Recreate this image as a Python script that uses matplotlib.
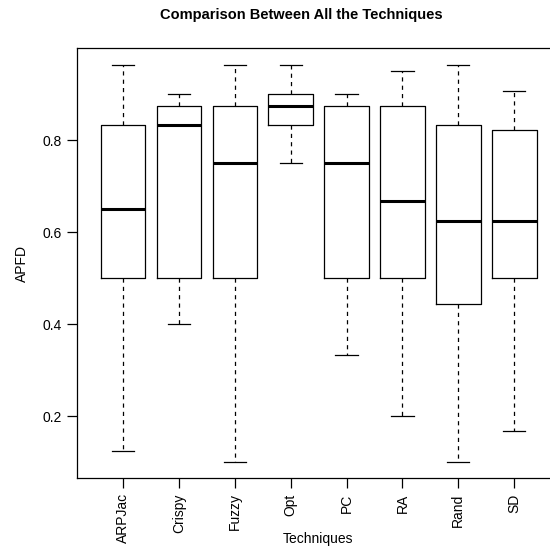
import matplotlib.pyplot as plt

plt.rcParams["font.family"] = ["Liberation Sans", "DejaVu Sans"]
plt.rcParams["lines.scale_dashes"] = False

techniques = ["ARPJac", "Crispy", "Fuzzy", "Opt", "PC", "RA", "Rand", "SD"]
whisker_lo = [0.125, 0.4, 0.1, 0.75, 0.333, 0.2, 0.1, 0.167]
q1 = [0.5, 0.5, 0.5, 0.833, 0.5, 0.5, 0.444, 0.5]
median = [0.65, 0.833, 0.75, 0.875, 0.75, 0.667, 0.625, 0.625]
q3 = [0.833, 0.875, 0.875, 0.9, 0.875, 0.875, 0.833, 0.821]
whisker_hi = [0.964, 0.9, 0.964, 0.964, 0.9, 0.95, 0.964, 0.906]

stats = []
for i, name in enumerate(techniques):
    stats.append({
        "label": name,
        "whislo": whisker_lo[i],
        "q1": q1[i],
        "med": median[i],
        "q3": q3[i],
        "whishi": whisker_hi[i],
        "fliers": [],
    })

fig = plt.figure(figsize=(5.5, 5.52), dpi=100)
ax = fig.add_axes([77.3 / 550, 1 - 478 / 552, (560 - 77.3) / 550, (478 - 48.3) / 552])

ax.bxp(
    stats,
    positions=range(1, 9),
    widths=0.8,
    showfliers=False,
    boxprops=dict(color="black", linewidth=0.9),
    medianprops=dict(color="black", linewidth=2.2, solid_capstyle="butt"),
    whiskerprops=dict(color="black", linewidth=0.9, linestyle=(0, (3, 3))),
    capprops=dict(color="black", linewidth=0.9),
)

ax.set_xlim(0.18, 8.82)
ax.set_ylim(0.0654, 0.9996)
ax.set_yticks([0.2, 0.4, 0.6, 0.8])
ax.set_yticklabels(["0.2", "0.4", "0.6", "0.8"])
ax.set_xticks(range(1, 9))
ax.set_xticklabels(techniques, rotation=90)
ax.tick_params(axis="both", length=7, width=0.9, labelsize=10, pad=4)
for s in ax.spines.values():
    s.set_linewidth(0.9)

ax.set_ylabel("APFD", fontsize=10, labelpad=10)
fig.text(318 / 550, 1 - 539 / 552, "Techniques", ha="center", va="center", fontsize=10)
fig.text(301 / 550, 1 - 15 / 552, "Comparison Between All the Techniques",
         ha="center", va="center", fontsize=10.5, fontweight="bold")

fig.savefig("out.png", dpi=100)
